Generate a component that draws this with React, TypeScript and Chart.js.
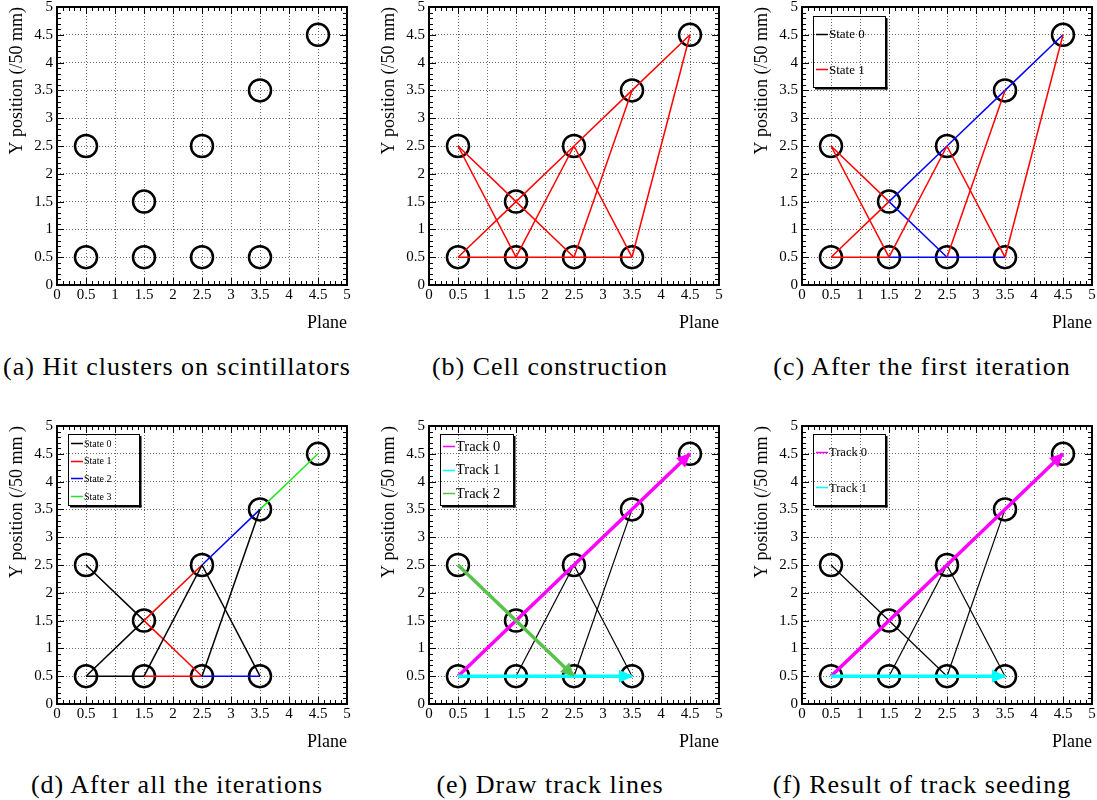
import React, { useEffect, useRef } from 'react';
import { Chart, registerables } from 'chart.js';

Chart.register(...registerables);

// ---------- data ----------
const HIT_X = [0.5, 0.5, 1.5, 1.5, 2.5, 2.5, 3.5, 3.5, 4.5];
const HIT_Y = [0.5, 2.5, 0.5, 1.5, 0.5, 2.5, 0.5, 3.5, 4.5];

const TICK_LABELS = ['0', '0.5', '1', '1.5', '2', '2.5', '3', '3.5', '4', '4.5', '5'];
const AXIS_MIN = 0;
const AXIS_MAX = 5;
const MAJOR_STEP = 0.5;
const MINOR_STEP = 0.1;

// segments: [x1, y1, x2, y2]
const CELLS_B = [
  [0.5, 2.5, 1.5, 1.5], [0.5, 2.5, 1.5, 0.5], [0.5, 0.5, 1.5, 1.5], [0.5, 0.5, 1.5, 0.5],
  [1.5, 1.5, 2.5, 2.5], [1.5, 1.5, 2.5, 0.5], [1.5, 0.5, 2.5, 2.5], [1.5, 0.5, 2.5, 0.5],
  [2.5, 2.5, 3.5, 3.5], [2.5, 2.5, 3.5, 0.5], [2.5, 0.5, 3.5, 3.5], [2.5, 0.5, 3.5, 0.5],
  [3.5, 3.5, 4.5, 4.5], [3.5, 0.5, 4.5, 4.5],
];
const CELLS_C_STATE0 = [
  [0.5, 2.5, 1.5, 1.5], [0.5, 2.5, 1.5, 0.5], [0.5, 0.5, 1.5, 1.5], [0.5, 0.5, 1.5, 0.5],
  [1.5, 0.5, 2.5, 2.5], [2.5, 2.5, 3.5, 0.5], [2.5, 0.5, 3.5, 3.5], [3.5, 0.5, 4.5, 4.5],
];
const CELLS_C_STATE1 = [
  [1.5, 1.5, 2.5, 2.5], [2.5, 2.5, 3.5, 3.5], [3.5, 3.5, 4.5, 4.5],
  [1.5, 1.5, 2.5, 0.5], [1.5, 0.5, 2.5, 0.5], [2.5, 0.5, 3.5, 0.5],
];
const CELLS_D_STATE0 = [
  [0.5, 2.5, 1.5, 1.5], [0.5, 0.5, 1.5, 1.5], [0.5, 0.5, 1.5, 0.5],
  [1.5, 0.5, 2.5, 2.5], [2.5, 2.5, 3.5, 0.5], [2.5, 0.5, 3.5, 3.5],
];
const CELLS_D_STATE1 = [[1.5, 1.5, 2.5, 2.5], [1.5, 1.5, 2.5, 0.5], [1.5, 0.5, 2.5, 0.5]];
const CELLS_D_STATE2 = [[2.5, 2.5, 3.5, 3.5], [2.5, 0.5, 3.5, 0.5]];
const CELLS_D_STATE3 = [[3.5, 3.5, 4.5, 4.5]];
const CELLS_E_REST = [[1.5, 0.5, 2.5, 2.5], [2.5, 2.5, 3.5, 0.5], [2.5, 0.5, 3.5, 3.5]];
const CELLS_F_REST = [[0.5, 2.5, 2.5, 0.5], [1.5, 0.5, 2.5, 2.5], [2.5, 2.5, 3.5, 0.5], [2.5, 0.5, 3.5, 3.5]];
const TRACK_0 = [[0.5, 0.5, 4.5, 4.5]];
const TRACK_1 = [[0.5, 0.5, 3.5, 0.5]];
const TRACK_2 = [[0.5, 2.5, 2.5, 0.5]];

const STATE_LABELS = ['State 0', 'State 1', 'State 2', 'State 3'];
const TRACK_LABELS = ['Track 0', 'Track 1', 'Track 2'];

const CAPTIONS = [
  '(a) Hit clusters on scintillators',
  '(b) Cell construction',
  '(c) After the first iteration',
  '(d) After all the iterations',
  '(e) Draw track lines',
  '(f) Result of track seeding',
];

// ---------- styles ----------
const FONT = '"Liberation Serif", "Times New Roman", serif';
const CAPTION_FONT = '"Liberation Serif", "Times New Roman", serif';
const BLACK = '#000000';
const RED = '#ff0000';
const BLUE = '#0000ff';
const GREEN = '#22e622';
const MAGENTA = '#ff00ff';
const CYAN = '#00ffff';
const TRACK_GREEN = '#58c24a';

const PLOT_W = 290;
const PLOT_H = 278;
const AX_LEFT = 60;
const AX_BOTTOM = 50;
const PAD_TOP = 20;
const PAD_RIGHT = 20;
const CW = PLOT_W + AX_LEFT + PAD_RIGHT;
const CH = PLOT_H + PAD_TOP + AX_BOTTOM;

const COL_LEFT = [57, 429, 802];
const ROW_TOP = [7, 426];
const CAPTION_CENTER = [177, 550, 922];
const CAPTION_TOP = [353, 771];

type Group = { segs: number[][]; color: string; width: number; order: number; arrow?: boolean };
type LegendSpec = { dx: number; dy: number; w: number; h: number; size: number; labels: string[]; colors: string[] };
type PanelSpec = { col: number; row: number; yTitle: string; groups: Group[]; legend?: LegendSpec };

const PANELS: PanelSpec[] = [
  { col: 0, row: 0, yTitle: 'Y position (/50 mm)', groups: [] },
  { col: 1, row: 0, yTitle: 'Y position (/50 mm)', groups: [{ segs: CELLS_B, color: RED, width: 1.5, order: 2 }] },
  {
    col: 2, row: 0, yTitle: 'Y position (/50 mm)',
    groups: [
      { segs: CELLS_C_STATE0, color: RED, width: 1.5, order: 2 },
      { segs: CELLS_C_STATE1, color: BLUE, width: 1.5, order: 2 },
    ],
    legend: { dx: 11, dy: 9, w: 72, h: 71, size: 13, labels: STATE_LABELS.slice(0, 2), colors: [BLACK, RED] },
  },
  {
    col: 0, row: 1, yTitle: 'Y position (/50 mm )',
    groups: [
      { segs: CELLS_D_STATE0, color: BLACK, width: 1.5, order: 2 },
      { segs: CELLS_D_STATE1, color: RED, width: 1.5, order: 2 },
      { segs: CELLS_D_STATE2, color: BLUE, width: 1.5, order: 2 },
      { segs: CELLS_D_STATE3, color: GREEN, width: 1.5, order: 2 },
    ],
    legend: { dx: 11, dy: 8, w: 71, h: 71, size: 10, labels: STATE_LABELS, colors: [BLACK, RED, BLUE, GREEN] },
  },
  {
    col: 1, row: 1, yTitle: 'Y position (/50 mm )',
    groups: [
      { segs: CELLS_E_REST, color: BLACK, width: 1.2, order: 2 },
      { segs: TRACK_1, color: CYAN, width: 3.5, order: 1, arrow: true },
      { segs: TRACK_2, color: TRACK_GREEN, width: 3.5, order: 1, arrow: true },
      { segs: TRACK_0, color: MAGENTA, width: 3.5, order: 1, arrow: true },
    ],
    legend: { dx: 11, dy: 8, w: 73, h: 71, size: 14.5, labels: TRACK_LABELS, colors: [MAGENTA, CYAN, TRACK_GREEN] },
  },
  {
    col: 2, row: 1, yTitle: 'Y position (/50 mm )',
    groups: [
      { segs: CELLS_F_REST, color: BLACK, width: 1.2, order: 2 },
      { segs: TRACK_1, color: CYAN, width: 3.5, order: 1, arrow: true },
      { segs: TRACK_0, color: MAGENTA, width: 3.5, order: 1, arrow: true },
    ],
    legend: { dx: 11, dy: 8, w: 72, h: 71, size: 12.5, labels: TRACK_LABELS.slice(0, 2), colors: [MAGENTA, CYAN] },
  },
];

// ---------- plugins ----------
const rootFrame = {
  id: 'rootFrame',
  beforeDatasetsDraw(chart: any) {
    const { ctx, chartArea: a, scales } = chart;
    const x = scales.x;
    const y = scales.y;
    ctx.save();
    ctx.strokeStyle = BLACK;
    ctx.lineWidth = 1;
    ctx.beginPath();
    const n = Math.round((AXIS_MAX - AXIS_MIN) / MINOR_STEP);
    const per = Math.round(MAJOR_STEP / MINOR_STEP);
    for (let i = 0; i <= n; i++) {
      const v = AXIS_MIN + i * MINOR_STEP;
      const len = i % per === 0 ? 7 : 4;
      const px = Math.round(x.getPixelForValue(v)) + 0.5;
      const py = Math.round(y.getPixelForValue(v)) + 0.5;
      ctx.moveTo(px, a.bottom);
      ctx.lineTo(px, a.bottom - len);
      ctx.moveTo(px, a.top);
      ctx.lineTo(px, a.top + len);
      ctx.moveTo(a.left, py);
      ctx.lineTo(a.left + len, py);
      ctx.moveTo(a.right, py);
      ctx.lineTo(a.right - len, py);
    }
    ctx.stroke();
    ctx.lineWidth = 2;
    ctx.strokeRect(a.left, a.top, a.right - a.left, a.bottom - a.top);
    ctx.restore();
  },
};

const arrowHeads = {
  id: 'arrowHeads',
  afterDatasetsDraw(chart: any) {
    const { ctx } = chart;
    chart.data.datasets.forEach((ds: any, i: number) => {
      if (!ds.arrow) return;
      const meta = chart.getDatasetMeta(i);
      const p0 = meta.data[0];
      const p1 = meta.data[meta.data.length - 1];
      if (!p0 || !p1) return;
      const ang = Math.atan2(p1.y - p0.y, p1.x - p0.x);
      ctx.save();
      ctx.translate(p1.x, p1.y);
      ctx.rotate(ang);
      ctx.fillStyle = ds.borderColor;
      ctx.beginPath();
      ctx.moveTo(1, 0);
      ctx.lineTo(-13, -6.5);
      ctx.lineTo(-13, 6.5);
      ctx.closePath();
      ctx.fill();
      ctx.restore();
    });
  },
};

const rootLegend = {
  id: 'rootLegend',
  afterDatasetsDraw(chart: any, _args: any, opts: any) {
    if (!opts || !opts.labels || !opts.labels.length) return;
    const { ctx, chartArea: a } = chart;
    const x = Math.round(a.left + opts.dx);
    const y = Math.round(a.top + opts.dy);
    const w = opts.w;
    const h = opts.h;
    ctx.save();
    ctx.fillStyle = BLACK;
    ctx.fillRect(x + w, y + 2, 2.5, h + 0.5);
    ctx.fillRect(x + 2, y + h, w + 0.5, 2.5);
    ctx.strokeStyle = BLACK;
    ctx.lineWidth = 1;
    ctx.strokeRect(x + 0.5, y + 0.5, w, h);
    const n = opts.labels.length;
    const rowH = h / n;
    ctx.font = `${opts.size}px ${FONT}`;
    ctx.textBaseline = 'middle';
    ctx.textAlign = 'left';
    for (let i = 0; i < n; i++) {
      const cy = y + rowH * (i + 0.5);
      ctx.strokeStyle = opts.colors[i];
      ctx.lineWidth = 1.5;
      ctx.beginPath();
      ctx.moveTo(x + 3, Math.round(cy) + 0.5);
      ctx.lineTo(x + 15, Math.round(cy) + 0.5);
      ctx.stroke();
      ctx.fillStyle = BLACK;
      ctx.fillText(opts.labels[i], x + 16, cy + 1);
    }
    ctx.restore();
  },
};

// ---------- config ----------
function buildConfig(p: PanelSpec): any {
  const datasets: any[] = [];
  for (const g of p.groups) {
    for (const s of g.segs) {
      datasets.push({
        data: [{ x: s[0], y: s[1] }, { x: s[2], y: s[3] }],
        showLine: true,
        borderColor: g.color,
        backgroundColor: g.color,
        borderWidth: g.width,
        pointRadius: 0,
        pointHoverRadius: 0,
        order: g.order,
        arrow: !!g.arrow,
        fill: false,
      });
    }
  }
  datasets.push({
    data: HIT_X.map((x, i) => ({ x, y: HIT_Y[i] })),
    showLine: false,
    pointRadius: 11,
    pointHoverRadius: 11,
    pointBorderWidth: 2.5,
    pointBorderColor: BLACK,
    pointBackgroundColor: 'rgba(0,0,0,0)',
    order: 3,
  });

  const tickFont = { family: FONT, size: 15 };
  const titleFont = { family: FONT, size: 18 };

  return {
    type: 'scatter',
    data: { datasets },
    plugins: [rootFrame, arrowHeads, rootLegend],
    options: {
      animation: false,
      responsive: false,
      devicePixelRatio: 1,
      events: [],
      layout: { padding: { top: PAD_TOP, right: PAD_RIGHT, left: 0, bottom: 0 } },
      plugins: {
        legend: { display: false },
        tooltip: { enabled: false },
        rootLegend: p.legend || {},
      },
      scales: {
        x: {
          type: 'linear',
          min: AXIS_MIN,
          max: AXIS_MAX,
          ticks: {
            stepSize: MAJOR_STEP,
            padding: 1,
            color: BLACK,
            font: tickFont,
            maxRotation: 0,
            autoSkip: false,
            callback: (_v: any, i: number) => TICK_LABELS[i],
          },
          grid: { color: '#6a6a6a', lineWidth: 1, drawTicks: false },
          border: { display: false, dash: [1, 2] },
          title: { display: true, text: 'Plane', align: 'end', color: BLACK, font: titleFont, padding: { top: 0, bottom: 1 } },
          afterFit: (s: any) => { s.height = AX_BOTTOM; },
        },
        y: {
          type: 'linear',
          min: AXIS_MIN,
          max: AXIS_MAX,
          ticks: {
            stepSize: MAJOR_STEP,
            padding: 4,
            color: BLACK,
            font: tickFont,
            autoSkip: false,
            callback: (_v: any, i: number) => TICK_LABELS[i],
          },
          grid: { color: '#6a6a6a', lineWidth: 1, drawTicks: false },
          border: { display: false, dash: [1, 2] },
          title: { display: true, text: p.yTitle, align: 'end', color: BLACK, font: titleFont, padding: { top: 9, bottom: 0 } },
          afterFit: (s: any) => { s.width = AX_LEFT; },
        },
      },
    },
  };
}

function Panel({ spec }: { spec: PanelSpec }) {
  const ref = useRef<HTMLCanvasElement>(null);
  useEffect(() => {
    if (!ref.current) return;
    const chart = new Chart(ref.current, buildConfig(spec));
    return () => chart.destroy();
  }, [spec]);
  const left = COL_LEFT[spec.col] - AX_LEFT;
  const top = ROW_TOP[spec.row] - PAD_TOP;
  return (
    <canvas
      ref={ref}
      width={CW}
      height={CH}
      style={{ position: 'absolute', left, top, width: CW, height: CH }}
    />
  );
}

export default function App() {
  return (
    <div style={{ position: 'absolute', left: 0, top: 0, width: 1097, height: 800, background: '#fff', overflow: 'hidden' }}>
      {PANELS.map((p, i) => (
        <Panel key={i} spec={p} />
      ))}
      {CAPTIONS.map((c, i) => (
        <div
          key={'c' + i}
          style={{
            position: 'absolute',
            left: CAPTION_CENTER[i % 3] - 200,
            top: CAPTION_TOP[Math.floor(i / 3)],
            width: 400,
            textAlign: 'center',
            fontFamily: CAPTION_FONT,
            fontSize: 26,
            letterSpacing: '1px',
            lineHeight: '28px',
            whiteSpace: 'nowrap',
            color: '#000',
          }}
        >
          {c}
        </div>
      ))}
    </div>
  );
}
